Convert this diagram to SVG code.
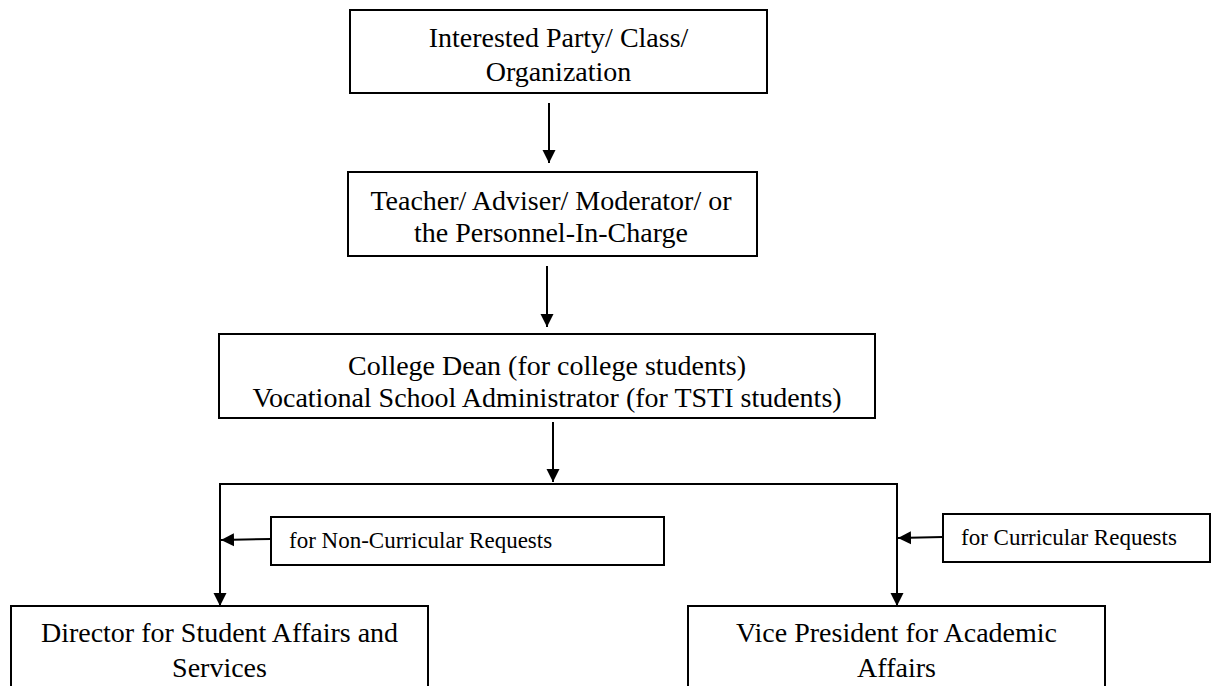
<svg xmlns="http://www.w3.org/2000/svg" width="1214" height="686" viewBox="0 0 1214 686">
<style>
.box{fill:#fff;stroke:#000;stroke-width:2}
.t{font-size:28px;fill:#000;text-anchor:middle}
.s{font-size:23px;fill:#000}
.ln{fill:none;stroke:#000;stroke-width:2}
</style>
<defs>
<marker id="ah" markerUnits="userSpaceOnUse" markerWidth="14" markerHeight="14" refX="13" refY="7" orient="auto">
<path d="M0,0.5 L13,7 L0,13.5 z" fill="#000"/>
</marker>
</defs>
<rect width="1214" height="686" fill="#fff"/>
<g id="connectors">
<line class="ln" x1="549" y1="103" x2="549" y2="163" marker-end="url(#ah)"/>
<line class="ln" x1="547" y1="266" x2="547" y2="327" marker-end="url(#ah)"/>
<line class="ln" x1="553" y1="422" x2="553" y2="482" marker-end="url(#ah)"/>
<polyline class="ln" points="220,606 220,484 897,484 897,606"/>
<line class="ln" x1="220" y1="590" x2="220" y2="606" marker-end="url(#ah)"/>
<line class="ln" x1="897" y1="590" x2="897" y2="606" marker-end="url(#ah)"/>
<line class="ln" x1="271" y1="539" x2="221" y2="540" marker-end="url(#ah)"/>
<line class="ln" x1="943" y1="537" x2="898" y2="538" marker-end="url(#ah)"/>
</g>
<g font-family="'Liberation Serif', 'DejaVu Serif', serif">
<g id="n1">
<rect class="box" x="350" y="10" width="417" height="83"/>
<text class="t" x="558.5" y="47">Interested Party/ Class/</text>
<text class="t" x="558.5" y="81">Organization</text>
</g>
<g id="n2">
<rect class="box" x="348" y="172" width="409" height="84"/>
<text class="t" x="551" y="210">Teacher/ Adviser/ Moderator/ or</text>
<text class="t" x="551" y="242">the Personnel-In-Charge</text>
</g>
<g id="n3">
<rect class="box" x="219" y="334" width="656" height="84"/>
<text class="t" x="547" y="375">College Dean (for college students)</text>
<text class="t" x="547" y="407">Vocational School Administrator (for TSTI students)</text>
</g>
<g id="lblNonCurr">
<rect class="box" x="271" y="517" width="393" height="48"/>
<text class="s" x="289" y="548">for Non-Curricular Requests</text>
</g>
<g id="lblCurr">
<rect class="box" x="943" y="514" width="267" height="48"/>
<text class="s" x="961" y="545">for Curricular Requests</text>
</g>
<g id="n4">
<rect class="box" x="11" y="606" width="417" height="100"/>
<text class="t" x="219.5" y="642">Director for Student Affairs and</text>
<text class="t" x="219.5" y="677">Services</text>
</g>
<g id="n5">
<rect class="box" x="688" y="606" width="417" height="100"/>
<text class="t" x="896.5" y="642">Vice President for Academic</text>
<text class="t" x="896.5" y="677">Affairs</text>
</g>
</g>
</svg>
